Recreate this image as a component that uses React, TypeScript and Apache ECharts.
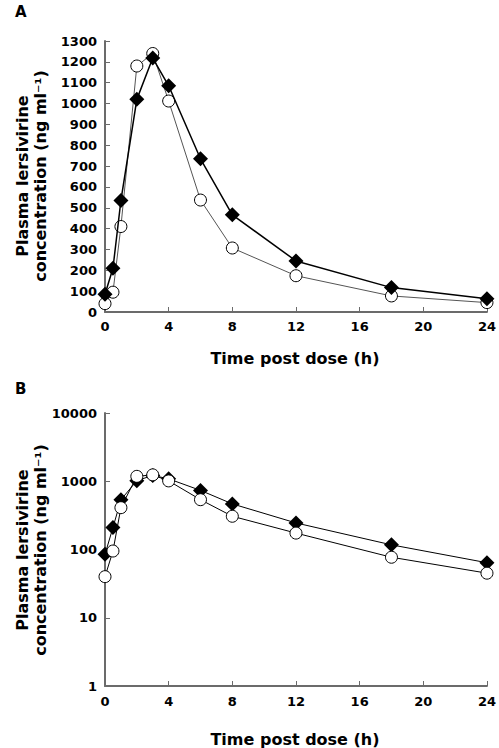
import React, { useEffect, useRef } from 'react';
import * as echarts from 'echarts';

const timeHours = [0, 0.5, 1, 2, 3, 4, 6, 8, 12, 18, 24];
const diamondValues = [85, 210, 535, 1020, 1218, 1085, 735, 466, 245, 117, 64];
const circleValues = [40, 95, 410, 1180, 1240, 1012, 537, 307, 174, 77, 45];

const panelLabels = ['A', 'B'];
const xAxisTitle = 'Time post dose (h)';
const yAxisTitleLines = ['Plasma lersivirine', 'concentration (ng ml\u207B\u00B9)'];

const xMin = 0;
const xMax = 24;
const xInterval = 4;
const linearYMin = 0;
const linearYMax = 1300;
const linearYInterval = 100;
const logYMin = 1;
const logYMax = 10000;

const FONT = "'DejaVu Sans', sans-serif";
const AXIS_GRAY = '#6b6b6b';

function pairs(xs: number[], ys: number[]) {
  return xs.map((x, i) => [x, ys[i]]);
}

export default function App() {
  const ref = useRef<HTMLDivElement>(null);

  useEffect(() => {
    if (!ref.current) return;
    const chart = echarts.init(ref.current, undefined, { renderer: 'svg' });

    const axisLine = { show: true, lineStyle: { color: AXIS_GRAY, width: 2 } };
    const tickStyle = { show: true, inside: true, length: 5, lineStyle: { color: AXIS_GRAY, width: 1 } };
    const tickLabel = {
      color: '#000',
      fontFamily: FONT,
      fontWeight: 'bold' as const,
      fontSize: 13,
      formatter: (v: number) => String(Math.round(v)),
    };

    const grids = [
      { left: 105, top: 41, width: 384, height: 271 },
      { left: 105, top: 413, width: 384, height: 273 },
    ];

    const xAxes = [0, 1].map((g) => ({
      type: 'value' as const,
      gridIndex: g,
      min: xMin,
      max: xMax,
      interval: xInterval,
      axisLine,
      axisTick: tickStyle,
      axisLabel: { ...tickLabel, margin: g === 0 ? 8 : 9 },
      splitLine: { show: false },
    }));

    const yAxes = [
      {
        type: 'value' as const,
        gridIndex: 0,
        min: linearYMin,
        max: linearYMax,
        interval: linearYInterval,
        axisLine,
        axisTick: tickStyle,
        axisLabel: { ...tickLabel, margin: 8 },
        splitLine: { show: false },
      },
      {
        type: 'log' as const,
        gridIndex: 1,
        logBase: 10,
        min: logYMin,
        max: logYMax,
        axisLine,
        axisTick: tickStyle,
        axisLabel: { ...tickLabel, margin: 8 },
        splitLine: { show: false },
        minorTick: { show: false },
      },
    ];

    const circleSeries = (g: number, lineColor: string, z: number) => ({
      type: 'line' as const,
      xAxisIndex: g,
      yAxisIndex: g,
      data: pairs(timeHours, circleValues),
      symbol: 'circle',
      symbolSize: 12,
      clip: false,
      z,
      lineStyle: { color: lineColor, width: 1 },
      itemStyle: { color: '#fff', borderColor: '#000', borderWidth: 1 },
    });
    const diamondSeries = (g: number, width: number, z: number) => ({
      type: 'line' as const,
      xAxisIndex: g,
      yAxisIndex: g,
      data: pairs(timeHours, diamondValues),
      symbol: 'diamond',
      symbolSize: 15,
      clip: false,
      z,
      lineStyle: { color: '#000', width },
      itemStyle: { color: '#000', borderColor: '#000', borderWidth: 0 },
    });

    const titleFont = `bold 16px ${FONT}`;
    const graphic: any[] = [
      { type: 'text', x: 15, y: 12, style: { text: panelLabels[0], font: `bold 15px ${FONT}`, fill: '#000', textAlign: 'left', textVerticalAlign: 'middle' } },
      { type: 'text', x: 15, y: 389, style: { text: panelLabels[1], font: `bold 15px ${FONT}`, fill: '#000', textAlign: 'left', textVerticalAlign: 'middle' } },
    ];
    const centersY = [176, 550];
    const xNameY = [358, 739];
    centersY.forEach((cy, i) => {
      graphic.push({ type: 'text', x: 22, y: cy, rotation: Math.PI / 2, style: { text: yAxisTitleLines[0], font: titleFont, fill: '#000', textAlign: 'center', textVerticalAlign: 'middle' } });
      graphic.push({ type: 'text', x: 40, y: cy, rotation: Math.PI / 2, style: { text: yAxisTitleLines[1], font: titleFont, fill: '#000', textAlign: 'center', textVerticalAlign: 'middle' } });
      graphic.push({ type: 'text', x: 295, y: xNameY[i], style: { text: xAxisTitle, font: titleFont, fill: '#000', textAlign: 'center', textVerticalAlign: 'middle' } });
    });

    chart.setOption({
      animation: false,
      backgroundColor: '#fff',
      grid: grids,
      xAxis: xAxes,
      yAxis: yAxes,
      series: [
        circleSeries(0, '#555', 2),
        diamondSeries(0, 1.5, 3),
        diamondSeries(1, 1, 2),
        circleSeries(1, '#000', 3),
      ],
      graphic,
    });

    return () => chart.dispose();
  }, []);

  return (
    <div
      ref={ref}
      style={{ position: 'absolute', left: 0, top: 0, width: 499, height: 748, background: '#fff' }}
    />
  );
}
